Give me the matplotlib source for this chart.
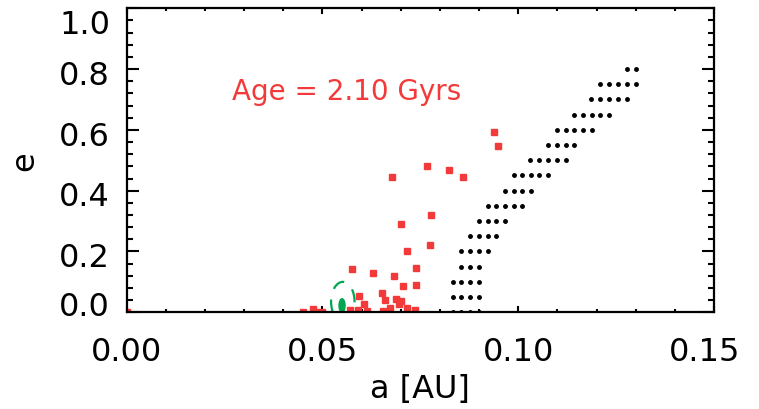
import matplotlib.pyplot as plt
import matplotlib.transforms as mtransforms
from matplotlib.patches import Ellipse
from matplotlib.ticker import MultipleLocator

# Black grid of (a, e) points, one list of a per row of e
black_rows_e = [0.80, 0.75, 0.70, 0.65, 0.60, 0.55, 0.50, 0.45, 0.40,
                0.35, 0.30, 0.25, 0.20, 0.15, 0.10, 0.05, 0.00]
black_rows_a = [
    [0.1278, 0.1300],
    [0.1210, 0.1233, 0.1256, 0.1278, 0.1300],
    [0.1187, 0.1210, 0.1233, 0.1256, 0.1278],
    [0.1143, 0.1166, 0.1188, 0.1210, 0.1233],
    [0.1099, 0.1121, 0.1143, 0.1166, 0.1188],
    [0.1077, 0.1099, 0.1121, 0.1143],
    [0.1031, 0.1054, 0.1077, 0.1099, 0.1121],
    [0.0988, 0.1010, 0.1032, 0.1054, 0.1077],
    [0.0966, 0.0988, 0.1010, 0.1032],
    [0.0922, 0.0944, 0.0966, 0.0988, 0.1010],
    [0.0900, 0.0922, 0.0944, 0.0966],
    [0.0877, 0.0900, 0.0922, 0.0944],
    [0.0855, 0.0877, 0.0900, 0.0922],
    [0.0855, 0.0877, 0.0900],
    [0.0833, 0.0855, 0.0877, 0.0900],
    [0.0833, 0.0855, 0.0877, 0.0900],
    [0.0833, 0.0855, 0.0877, 0.0900],
]

# Red points
red_a = [0.0, 0.0451, 0.0477, 0.0486, 0.0498,
         0.0571, 0.0575, 0.0590, 0.0593, 0.0607, 0.0615,
         0.0629, 0.0652, 0.0654, 0.0661, 0.0664, 0.0672,
         0.0677, 0.0682, 0.0689, 0.0696, 0.0700, 0.0701,
         0.0706, 0.0716, 0.0717, 0.0737, 0.0739, 0.0739,
         0.0767, 0.0775, 0.0776, 0.0823, 0.0859, 0.0937, 0.0948]
red_e = [0.0, 0.0, 0.011, 0.0, 0.0,
         0.008, 0.142, 0.008, 0.053, 0.026, 0.003,
         0.129, 0.063, 0.003, 0.041, 0.0, 0.014,
         0.446, 0.118, 0.044, 0.027, 0.037, 0.292,
         0.085, 0.014, 0.203, 0.008, 0.146, 0.091,
         0.480, 0.222, 0.321, 0.469, 0.444, 0.594, 0.548]

# Green planet marker and its dashed outline
planet_a, planet_e = 0.0550, 0.022
planet_da, planet_de = 0.0019, 0.050
halo_a, halo_e = 0.0552, 0.035
halo_da, halo_de = 0.0060, 0.130

x_ticks = [0.00, 0.05, 0.10, 0.15]
y_ticks = [0.0, 0.2, 0.4, 0.6, 0.8, 1.0]
age_label = "Age = 2.10 Gyrs"

red = "#f23a3a"
green = "#00a651"

fig = plt.figure(figsize=(7.59, 4.10), dpi=100)
ax = fig.add_axes([0.1669, 0.2359, 0.7738, 0.7415])

black_a = [a for row in black_rows_a for a in row]
black_e = [e for e, row in zip(black_rows_e, black_rows_a) for _ in row]
ax.plot(black_a, black_e, "o", color="black", markersize=2.5, linestyle="none")

ax.plot(red_a, red_e, "s", color=red, markersize=3.8, linestyle="none")

ax.add_patch(Ellipse((planet_a, planet_e), planet_da, planet_de,
                     facecolor=green, edgecolor="none"))
ax.add_patch(Ellipse((halo_a, halo_e), halo_da, halo_de, facecolor="none",
                     edgecolor=green, lw=1.6, linestyle=(0, (6, 5))))

ax.text(0.0563, 0.727, age_label, color=red, fontsize=20, ha="center", va="center")

ax.set_xlim(0, 0.15)
ax.set_ylim(0, 1.0)
ax.set_xticks(x_ticks, [f"{v:.2f}" for v in x_ticks])
ax.set_yticks(y_ticks, [f"{v:.1f}" for v in y_ticks])
ax.xaxis.set_minor_locator(MultipleLocator(0.01))
ax.yaxis.set_minor_locator(MultipleLocator(0.04))

for s in ax.spines.values():
    s.set_linewidth(1.6)
ax.tick_params(which="both", direction="in", top=True, right=True, width=1.5,
               labelsize=23)
ax.tick_params(axis="x", which="major", length=4.5, pad=17)
ax.tick_params(axis="x", which="minor", length=2.2)
ax.tick_params(axis="y", which="major", length=8.6, pad=12)
ax.tick_params(axis="y", which="minor", length=4.3)

# IDL nudges the end labels inwards (shifts in points)
y_shift_pt = [6.5, -2, -2, -2, -2, -9.4]
for lab, dy in zip(ax.get_yticklabels(), y_shift_pt):
    off = mtransforms.ScaledTranslation(0, dy / 72, fig.dpi_scale_trans)
    lab.set_transform(lab.get_transform() + off)
x_labels = ax.get_xticklabels()
off = mtransforms.ScaledTranslation(-7 / 72, 0, fig.dpi_scale_trans)
x_labels[-1].set_transform(x_labels[-1].get_transform() + off)

ax.set_xlabel("a [AU]", fontsize=23)
ax.set_ylabel("e", fontsize=23)
ax.xaxis.set_label_coords(0.5, -0.2)
ax.yaxis.set_label_coords(-0.148, 0.5)

fig.savefig("out.png", dpi=100)
